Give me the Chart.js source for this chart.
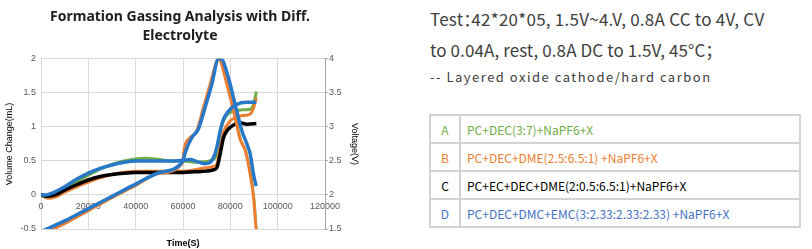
<!DOCTYPE html>
<html>
<head>
<meta charset="utf-8">
<script src="https://cdn.jsdelivr.net/npm/chart.js@4"></script>
<style>
  body { margin: 0; background: #fff; width: 812px; height: 249px; position: relative; overflow: hidden; }
  #chartBox { position: absolute; left: 0; top: 0; width: 360px; height: 249px; }
  .note { position: absolute; left: 430px; color: #404040; font-family: "Noto Sans CJK SC", "Noto Sans", sans-serif; white-space: nowrap; }
  #l1 { top: 6px; font-size: 17px; letter-spacing: 0.25px; }
  #l2 { top: 37px; font-size: 17px; letter-spacing: 0.1px; }
  #l3 { top: 67px; font-size: 13px; letter-spacing: 1.5px; }
  .colon { letter-spacing: -9px; }
  table { position: absolute; left: 429px; top: 114px; width: 372px; border-collapse: collapse; font-family: "Noto Sans CJK SC", "Noto Sans", sans-serif; font-size: 12px; }
  td { border: 2px solid #d3d3d3; height: 26px; padding: 0 0 0 6px; }
  td.k { width: 28px; text-align: center; padding: 0; }
</style>
</head>
<body>
<div id="chartBox"><canvas id="gasChart"></canvas></div>
<div class="note" id="l1">Test<span class="colon">：</span>42*20*05, 1.5V~4.V, 0.8A CC to 4V, CV</div>
<div class="note" id="l2">to 0.04A, rest, 0.8A DC to 1.5V, 45°C；</div>
<div class="note" id="l3">-- Layered oxide cathode/hard carbon</div>
<table id="legendTable"></table>
<script>
// legend table rows
var keys = ['A', 'B', 'C', 'D'];
var electrolytes = ['PC+DEC(3:7)+NaPF6+X', 'PC+DEC+DME(2.5:6.5:1) +NaPF6+X', 'PC+EC+DEC+DME(2:0.5:6.5:1)+NaPF6+X', 'PC+DEC+DMC+EMC(3:2.33:2.33:2.33) +NaPF6+X'];
var colors = ['#70ad47', '#ed7d31', '#000000', '#2878c8'];
var textColors = ['#70ad47', '#ed7d31', '#000000', '#4472c4'];

// volume change (mL) vs time (s)
var timeVolA = [0, 3000, 6000, 10000, 15000, 20000, 25000, 30000, 35000, 40000, 44000, 50000, 55000, 60000, 65000, 70000, 72500, 74300, 75700, 77800, 81300, 85000, 88400, 89800, 91000];
var volA     = [0, -0.04, -0.01, 0.08, 0.19, 0.29, 0.38, 0.45, 0.5, 0.53, 0.54, 0.52, 0.5, 0.5, 0.48, 0.49, 0.52, 0.6, 0.92, 1.14, 1.23, 1.25, 1.26, 1.33, 1.52];
var timeVolB = [0, 3000, 6000, 10000, 15000, 20000, 25000, 30000, 35000, 40000, 50000, 60000, 65000, 70000, 73000, 74300, 75700, 77100, 80000, 84100, 88400, 89500, 90500, 91000];
var volB     = [0, -0.05, -0.03, 0.04, 0.12, 0.19, 0.25, 0.3, 0.33, 0.35, 0.35, 0.35, 0.37, 0.4, 0.42, 0.45, 0.7, 0.92, 1.09, 1.16, 1.19, 1.25, 1.36, 1.43];
var timeVolC = [0, 3000, 6000, 10000, 15000, 20000, 25000, 30000, 35000, 40000, 50000, 60000, 65000, 70000, 73000, 74300, 75700, 77100, 79200, 82000, 84100, 87000, 91000];
var volC     = [0, -0.02, 0, 0.07, 0.15, 0.22, 0.27, 0.3, 0.32, 0.33, 0.33, 0.33, 0.34, 0.35, 0.37, 0.4, 0.6, 0.84, 0.97, 1.04, 1.06, 1.04, 1.05];
var timeVolD = [0, 2000, 5000, 10000, 15000, 20000, 25000, 30000, 35000, 40000, 50000, 55000, 60000, 63000, 66000, 69000, 71000, 72900, 74300, 75700, 77100, 79200, 82700, 87000, 91000];
var volD     = [0, 0, 0.03, 0.12, 0.23, 0.32, 0.39, 0.44, 0.48, 0.5, 0.5, 0.5, 0.51, 0.52, 0.49, 0.46, 0.47, 0.55, 0.7, 0.94, 1.11, 1.23, 1.33, 1.36, 1.36];

// voltage (V) vs time (s)
var timeVoltA = [0, 10000, 20000, 30000, 40000, 50000, 60000, 60500, 63300, 66100, 68900, 71800, 74600, 75300, 76000, 78800, 82300, 84400, 86600, 88700, 90100, 91100];
var voltA     = [1.42, 1.58, 1.77, 1.96, 2.14, 2.32, 2.48, 2.6, 2.84, 2.94, 3.28, 3.63, 3.97, 4.0, 3.98, 3.63, 3.14, 2.82, 2.65, 2.3, 1.96, 1.5];
var timeVoltB = [0, 10000, 20000, 30000, 40000, 50000, 60000, 60200, 63000, 65800, 68600, 71500, 74300, 75000, 75700, 78500, 82000, 84100, 86300, 88400, 89800, 90900];
var voltB     = [1.42, 1.58, 1.77, 1.96, 2.14, 2.32, 2.48, 2.6, 2.84, 2.94, 3.28, 3.63, 3.97, 4.0, 3.98, 3.63, 3.14, 2.82, 2.65, 2.3, 1.96, 1.48];
var timeVoltD = [0, 10000, 20000, 30000, 40000, 50000, 60000, 60900, 63700, 66500, 69300, 72200, 75000, 76000, 79200, 82000, 84900, 87000, 88400, 89800, 90900];
var voltD     = [1.46, 1.62, 1.8, 1.98, 2.16, 2.33, 2.5, 2.62, 2.84, 2.97, 3.28, 3.63, 4.0, 4.0, 3.72, 3.33, 2.94, 2.75, 2.6, 2.3, 2.13];

var xTicks = [0, 20000, 40000, 60000, 80000, 100000, 120000];

var tbl = document.getElementById('legendTable');
keys.forEach(function (k, i) {
  var tr = document.createElement('tr');
  tr.innerHTML = '<td class="k" style="color:' + textColors[i] + '">' + k + '</td><td style="color:' + textColors[i] + '">' + electrolytes[i] + '</td>';
  tbl.appendChild(tr);
});

function pts(xs, ys) {
  return xs.map(function (x, i) { return { x: x, y: ys[i] }; });
}
function series(xs, ys, color, axis, width) {
  return {
    data: pts(xs, ys),
    yAxisID: axis,
    borderColor: color,
    backgroundColor: color,
    borderWidth: width,
    pointRadius: 0,
    cubicInterpolationMode: 'monotone',
    fill: false
  };
}

var tickFont = { family: 'Liberation Sans', size: 9 };
var tickColor = '#595959';
var gridColor = '#d9d9d9';
var plain = function (v) { return String(v); };

var ctx = document.getElementById('gasChart').getContext('2d');
var gasChart = new Chart(ctx, {
  type: 'line',
  data: {
    // first dataset is painted on top
    datasets: [
      series(timeVoltD, voltD, colors[3], 'yV', 3.5),
      series(timeVolD, volD, colors[3], 'y', 3.5),
      series(timeVoltB, voltB, colors[1], 'yV', 3),
      series(timeVoltA, voltA, colors[0], 'yV', 2),
      series(timeVolC, volC, colors[2], 'y', 3.5),
      series(timeVolB, volB, colors[1], 'y', 3),
      series(timeVolA, volA, colors[0], 'y', 3)
    ]
  },
  options: {
    responsive: true,
    maintainAspectRatio: false,
    animation: false,
    layout: { padding: 0 },
    plugins: {
      legend: { display: false },
      tooltip: { enabled: false },
      title: {
        display: true,
        text: ['Formation Gassing Analysis with Diff.', 'Electrolyte'],
        color: '#202020',
        font: { family: 'Noto Sans', size: 14, weight: 'bold', lineHeight: 1.35 },
        padding: { top: 8, bottom: 13 }
      }
    },
    scales: {
      x: {
        type: 'linear',
        position: { y: 0 },
        min: 0,
        max: 120000,
        afterBuildTicks: function (s) { s.ticks = xTicks.map(function (v) { return { value: v }; }); },
        ticks: { font: tickFont, color: tickColor, padding: 6, maxRotation: 0, autoSkip: false, callback: plain },
        grid: { color: gridColor, drawTicks: false },
        border: { display: false }
      },
      xTitle: {
        type: 'linear',
        position: 'bottom',
        min: 0,
        max: 120000,
        ticks: { display: false },
        grid: { display: false, drawTicks: false },
        border: { display: false },
        title: { display: true, text: 'Time(S)', color: '#000', font: { family: 'Liberation Sans', size: 9, weight: 'bold' }, padding: { top: 2, bottom: 0 } },
        afterFit: function (s) { s.height = 20; }
      },
      y: {
        position: 'left',
        min: -0.5,
        max: 2,
        ticks: { stepSize: 0.5, font: tickFont, color: tickColor, padding: 5, callback: plain },
        grid: { color: gridColor, drawTicks: false },
        border: { display: false },
        title: { display: true, text: 'Volume Change(mL)', color: '#000', font: { family: 'Liberation Sans', size: 9 }, padding: { top: 4, bottom: 0 } },
        afterFit: function (s) { s.width = 41; }
      },
      yV: {
        position: 'right',
        min: 1.5,
        max: 4,
        ticks: { stepSize: 0.5, font: tickFont, color: tickColor, padding: 1, callback: plain },
        grid: { drawOnChartArea: false, drawTicks: true, tickLength: 3, color: '#a6a6a6' },
        border: { display: true, color: '#a6a6a6', width: 1 },
        title: { display: true, text: 'Voltage(V)', color: '#000', font: { family: 'Liberation Sans', size: 9 }, padding: { top: 0, bottom: 4 } },
        afterFit: function (s) { s.width = 35; }
      }
    }
  }
});
</script>
</body>
</html>
